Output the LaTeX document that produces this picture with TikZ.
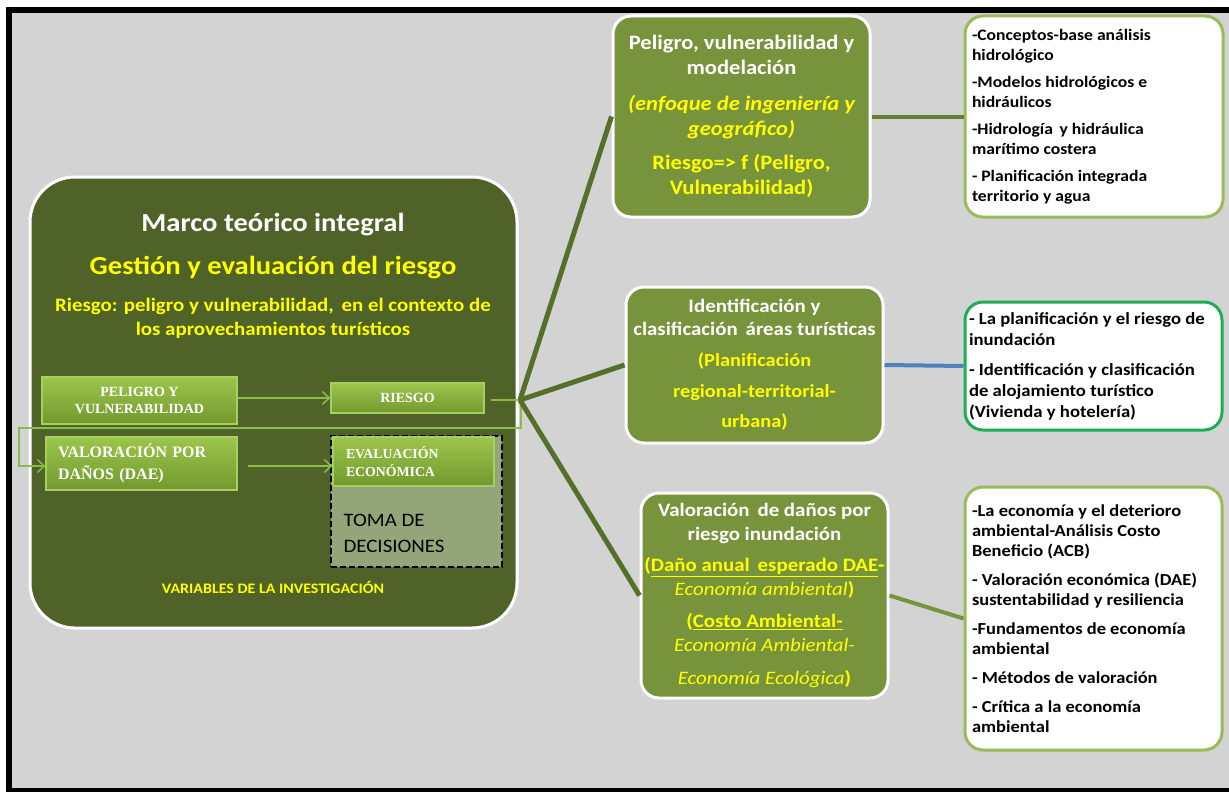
\documentclass[tikz,border=0pt]{standalone}
\usepackage{fontspec}
\setmainfont{Carlito}[FakeStretch=1.1]
\newfontfamily\romana{Liberation Serif}
\usepackage{tikz}
\usetikzlibrary{arrows.meta}
\definecolor{fondo}{HTML}{D3D3D3}
\definecolor{oscuro}{HTML}{4F6228}
\definecolor{olivo}{HTML}{77933C}
\definecolor{rama}{HTML}{55702B}
\definecolor{amarillo}{HTML}{FFFF00}
\definecolor{borde}{HTML}{9BBB59}
\definecolor{bordeverde}{HTML}{1DAE55}
\definecolor{azul}{HTML}{4F81BD}
\definecolor{flechaverde}{HTML}{8DBA4C}
\definecolor{toma}{HTML}{95A57A}
\definecolor{cajaarriba}{HTML}{9CC54B}
\definecolor{cajaabajo}{HTML}{73992F}
\definecolor{cajaborde}{HTML}{A6CF5F}
\tikzset{
  tema/.style={draw=white, line width=3, fill=olivo, rounded corners=18, text=white, align=center, inner sep=0},
  lista/.style={draw=borde, line width=3, fill=white, rounded corners=18, text=black, align=flush left, inner sep=0},
  cajavar/.style={draw=cajaborde, line width=1.2, top color=cajaarriba, bottom color=cajaabajo,
    text=white, font=\romana\bfseries, inner sep=0},
  enlace/.style={line width=5, draw=rama},
  flecha/.style={draw=flechaverde, line width=1.5, -{Straight Barb[length=7,width=13]}},
  linea/.style={draw=flechaverde, line width=1.5},
}
\begin{document}
\begin{tikzpicture}[x=1pt,y=-1pt]
  \useasboundingbox (0,0) rectangle (1229,792);
  \clip (0,0) rectangle (1229,792);
  \fill[white] (0,0) rectangle (1229,792);
  \draw[line width=6, fill=fondo] (9,10) rectangle (1236,791);

  \node[draw=white, line width=3, fill=oscuro, rounded corners=45, minimum width=487, minimum height=451] (marco) at (273.5,402.5) {};
  \node[text=white, font=\fontsize{26}{30}\selectfont\bfseries] (titulo) at (273,225) {Marco teórico integral};
  \node[text=amarillo, font=\fontsize{26}{30}\selectfont\bfseries] (gestion) at (273,268) {Gestión y evaluación del riesgo};
  \node[text=amarillo, align=center, font=\fontsize{19}{24}\selectfont\bfseries] (contexto) at (273,318)
    {Riesgo: peligro y vulnerabilidad,\, en el contexto de\\los aprovechamientos turísticos};
  \node[text=amarillo, font=\fontsize{14.5}{16}\selectfont\bfseries] (variables) at (273,587) {VARIABLES DE LA INVESTIGACIÓN};

  \node[fill=toma, draw=black, line width=1.3, dash pattern=on 6pt off 3pt, minimum width=171, minimum height=131] (tomabox) at (416.5,501.5) {};
  \node[anchor=west, align=left, text=black, font=\fontsize{19}{26}\selectfont] (decisiones) at (340,533) {TOMA DE\\DECISIONES};

  \node[cajavar, align=center, minimum width=195, minimum height=47, font=\romana\bfseries\fontsize{14}{17}\selectfont] (pv) at (139.5,400.5) {PELIGRO Y\\VULNERABILIDAD};
  \node[cajavar, minimum width=153, minimum height=30, font=\romana\bfseries\fontsize{14}{17}\selectfont] (riesgo) at (407.5,398) {RIESGO};
  \node[cajavar, align=left, text width=167, minimum width=191, minimum height=53, font=\romana\bfseries\fontsize{16}{22}\selectfont] (dae) at (141.5,463.5) {VALORACIÓN POR\\DAÑOS (DAE)};
  \node[cajavar, align=left, text width=135, minimum width=161, minimum height=49, font=\romana\bfseries\fontsize{13.8}{18}\selectfont] (economica) at (413.5,461.5) {EVALUACIÓN\\ECONÓMICA};

  \coordinate (nudo) at (520,400);
  \draw[flecha] (pv.east |- riesgo.west) -- (riesgo.west);
  \draw[flecha] ([xshift=10]dae.east |- 0,466) -- (economica.west |- 0,466);
  \draw[linea] ([xshift=6]riesgo.east |- nudo) -| (521,428) -- (19,428) |- (dae.west |- 0,466);
  \draw[flecha] (40,466) -- (dae.west |- 0,466);

  \node[tema, minimum width=257, minimum height=201, font=\fontsize{20.5}{25}\selectfont\bfseries] (peligro) at (741.5,116.5)
    {Peligro, vulnerabilidad y\\modelación\\[11pt]
     \color{amarillo}\itshape (enfoque de ingeniería y\\\color{amarillo}\itshape geográfico)\\[9pt]
     \color{amarillo}Riesgo=> f (Peligro,\\\color{amarillo}Vulnerabilidad)};
  \node[tema, minimum width=257, minimum height=156, font=\fontsize{19}{23}\selectfont\bfseries] (areas) at (754.5,365)
    {Identificación y\\clasificación\, áreas turísticas\\[8pt]
     \color{amarillo}\fontsize{18.5}{23}\selectfont(Planificación\\[8pt]
     \color{amarillo}\fontsize{18.5}{23}\selectfont regional-territorial-\\[7pt]
     \color{amarillo}\fontsize{18.5}{23}\selectfont urbana)};
  \node[tema, minimum width=247, minimum height=205, font=\fontsize{19}{24}\selectfont\bfseries] (danos) at (764.5,595.5)
    {Valoración\, de daños por\\riesgo inundación\\[7pt]
     \color{amarillo}(\underline{Daño anual\, esperado DAE}-\\
     \color{amarillo}{\mdseries\itshape Economía ambiental})\\[8pt]
     \color{amarillo}(\underline{Costo Ambiental-}\\
     \color{amarillo}{\mdseries\itshape Economía Ambiental-}\\[9pt]
     \color{amarillo}{\mdseries\itshape Economía Ecológica})};

  \node[lista, minimum width=258, minimum height=201, text width=244, font=\fontsize{16}{20}\selectfont\bfseries] (hidro) at (1094,116.5)
    {-Conceptos-base análisis\\hidrológico\\[7pt]
     -Modelos hidrológicos e\\hidráulicos\\[7pt]
     -Hidrología\, y hidráulica\\marítimo costera\\[7pt]
     - Planificación integrada\\territorio y agua};
  \node[lista, draw=bordeverde, minimum width=257, minimum height=128, text width=249, font=\fontsize{17}{21}\selectfont\bfseries] (aloja) at (1093.5,366)
    {- La planificación y el riesgo de\\inundación\\[9pt]
     - Identificación y clasificación\\de alojamiento turístico\\(Vivienda y hotelería)};
  \node[lista, minimum width=257, minimum height=263, text width=243, font=\fontsize{16.8}{20}\selectfont\bfseries] (ambiental) at (1093.5,618.5)
    {-La economía y el deterioro\\ambiental-Análisis Costo\\Beneficio (ACB)\\[9pt]
     - Valoración económica (DAE)\\sustentabilidad y resiliencia\\[9pt]
     -Fundamentos de economía\\ambiental\\[9pt]
     - Métodos de valoración\\[9pt]
     - Crítica a la economía\\ambiental};

  \draw[enlace] (nudo) -- (peligro.west);
  \draw[enlace] (nudo) -- (areas.west);
  \draw[enlace] (nudo) -- (danos.west);
  \draw[line width=4, draw=olivo!85!black] (peligro.east) -- (hidro.west);
  \draw[line width=4, draw=azul] (areas.east) -- (aloja.west);
  \draw[line width=4, draw=olivo] (danos.east) -- (ambiental.west);
\end{tikzpicture}
\end{document}
